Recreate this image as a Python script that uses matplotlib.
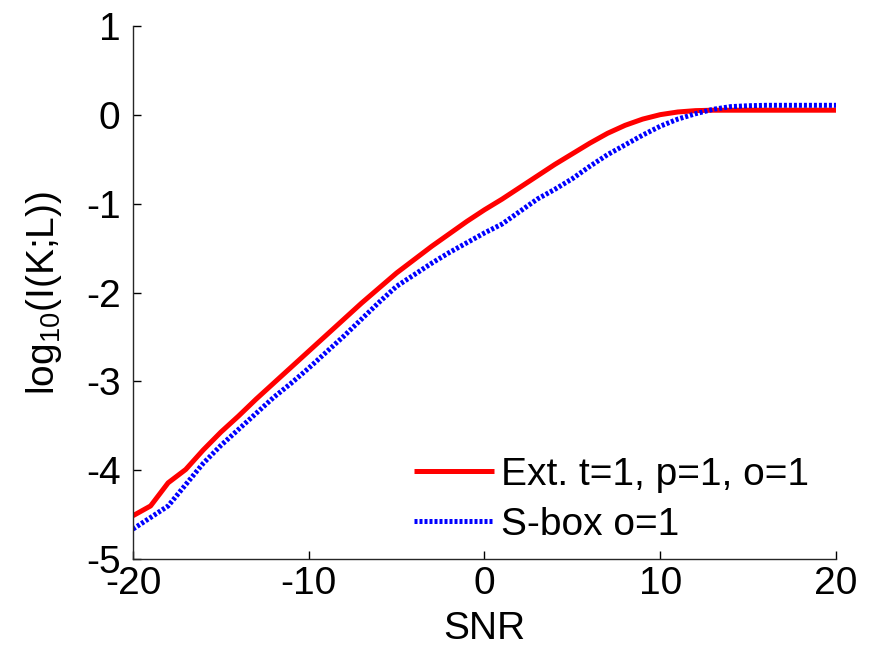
import numpy as np
import matplotlib
matplotlib.use('Agg')
import matplotlib.pyplot as plt

# Datos (log10 de la informacion mutua frente a SNR)
snr = np.arange(-20, 21)
ext_t1 = [-4.51, -4.40, -4.14, -3.99, -3.77, -3.57, -3.39, -3.20, -3.02, -2.84,
          -2.66, -2.48, -2.30, -2.12, -1.95, -1.78, -1.63, -1.48, -1.34, -1.20,
          -1.07, -0.95, -0.82, -0.69, -0.56, -0.44, -0.32, -0.21, -0.12, -0.05,
          0.00, 0.03, 0.045, 0.05, 0.05, 0.05, 0.05, 0.05, 0.05, 0.05, 0.05]
sbox_o1 = [-4.66, -4.53, -4.40, -4.16, -3.92, -3.72, -3.54, -3.36, -3.18, -3.02,
           -2.85, -2.67, -2.49, -2.30, -2.11, -1.93, -1.80, -1.67, -1.55, -1.44,
           -1.33, -1.23, -1.09, -0.95, -0.84, -0.72, -0.58, -0.45, -0.34, -0.23,
           -0.13, -0.05, 0.01, 0.06, 0.09, 0.10, 0.105, 0.105, 0.105, 0.105, 0.105]

xticks = [-20, -10, 0, 10, 20]
yticks = [-5, -4, -3, -2, -1, 0, 1]

plt.rcParams['font.family'] = ['Liberation Sans', 'DejaVu Sans']
plt.rcParams['mathtext.fontset'] = 'custom'
plt.rcParams['mathtext.rm'] = 'Liberation Sans'
plt.rcParams['mathtext.it'] = 'Liberation Sans:italic'
plt.rcParams['axes.unicode_minus'] = False

fs = 28

fig = plt.figure(figsize=(8.71, 6.48), dpi=100)
ax = fig.add_axes([0.1527, 0.1369, 0.8071, 0.8234])

ax.plot(snr, ext_t1, color='red', lw=3.6, solid_capstyle='butt',
        label='Ext. t=1, p=1, o=1')
ax.plot(snr, sbox_o1, color='blue', lw=3.6, linestyle=(0, (0.6, 0.4)),
        dash_capstyle='butt', label='S-box o=1')

ax.set_xlim(-20, 20)
ax.set_ylim(-5, 1)
ax.set_xticks(xticks)
ax.set_yticks(yticks)
ax.tick_params(direction='in', length=6, width=1, labelsize=fs)
ax.tick_params(axis='x', pad=5)
ax.tick_params(axis='y', pad=9)
for s in ['top', 'right']:
    ax.spines[s].set_visible(False)
for s in ['left', 'bottom']:
    ax.spines[s].set_linewidth(1)
    ax.spines[s].set_color('#262626')

ax.set_xlabel('SNR', fontsize=fs, labelpad=6)
ax.set_ylabel(r'log$_{10}$(I(K;L))', fontsize=fs, labelpad=16)

ax.legend(loc='lower right', bbox_to_anchor=(1.0, -0.02), frameon=False,
          fontsize=fs, handlelength=2.05, handletextpad=0.18, labelspacing=0.36,
          borderaxespad=0.3)

plt.savefig('out.png', dpi=100)
